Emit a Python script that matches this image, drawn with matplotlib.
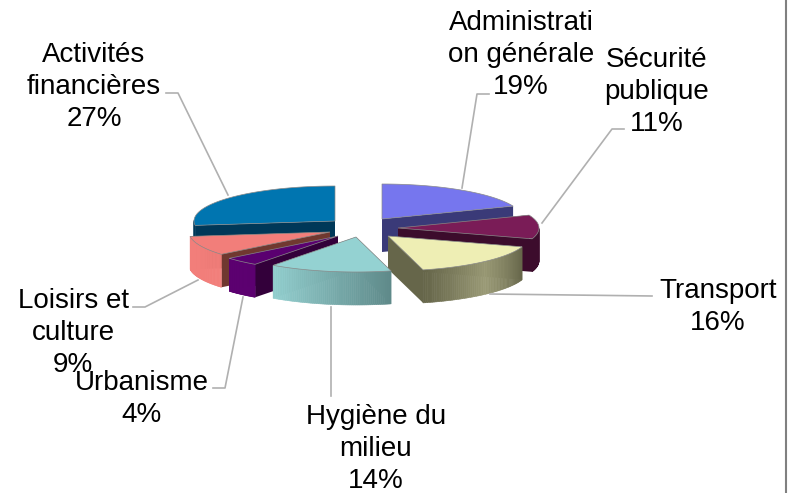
import numpy as np
import matplotlib
matplotlib.use("Agg")
import matplotlib.pyplot as plt
from matplotlib.colors import LinearSegmentedColormap
from matplotlib.patches import Polygon

plt.rcParams['font.family'] = ['Liberation Sans', 'DejaVu Sans']

categories = ["Administration générale", "Sécurité publique", "Transport",
              "Hygiène du milieu", "Urbanisme", "Loisirs et culture",
              "Activités financières"]
shares = [19, 11, 16, 14, 4, 9, 27]
labels = ["Administrati\non générale\n19%", "Sécurité\npublique\n11%",
          "Transport\n16%", "Hygiène du\nmilieu\n14%", "Urbanisme\n4%",
          "Loisirs et\nculture\n9%", "Activités\nfinancières\n27%"]

# look of each slice
top_colors = ["#7676EE", "#7A1C57", "#EEEEB4", "#94D2D2", "#5A0070", "#F27E7A", "#0075B0"]
cut_colors = ["#3A3A78", "#3C0C2C", "#66664A", "#66968F", "#33003A", "#703830", "#003858"]
side_colors = [["#3A3A78", "#3A3A78"], ["#3C0C2C", "#3C0C2C"],
               ["#66664A", "#9A9A76", "#66664A"], ["#5F8A8A", "#94D0D0"],
               ["#5C0070", "#5C0070"], ["#F27E7A", "#F27E7A"],
               ["#003858", "#003858"]]

# tip of each slice on the page, in pixels
tips = [(382, 219), (398, 228), (388, 236), (356, 237), (338, 236), (330, 232), (335, 221)]
rx, ry, depth = 141, 35, 33
draw_order = [6, 0, 1, 5, 4, 2, 3]

label_pos = [(521, 55), (657, 92), (718, 307), (376, 449), (142, 399), (73, 333), (94, 87)]
leaders = [[(489, 94), (477, 94), (462, 188)], [(624, 129), (612, 129), (542, 223)],
           [(652, 296), (490, 294)], [(331, 307), (331, 396)],
           [(213, 388), (225, 388), (243, 297)], [(133, 307), (145, 307), (198, 280)],
           [(166, 93), (178, 93), (228, 195)]]

fig = plt.figure(figsize=(7.99, 4.93), dpi=100)
ax = fig.add_axes([0, 0, 1, 1])
ax.set_xlim(0, 799)
ax.set_ylim(493, 0)
ax.axis("off")


def rim(tip, a0, a1, n=60):
    t = np.radians(np.linspace(a0, a1, n))
    return tip[0] + rx * np.sin(t), tip[1] - ry * np.cos(t)


ends = np.cumsum(shares) * 3.6
starts = ends - np.array(shares) * 3.6

for i in draw_order:
    tip = tips[i]
    x, y = rim(tip, starts[i], ends[i])
    z = draw_order.index(i) + 1
    cmap = LinearSegmentedColormap.from_list("side", side_colors[i])
    # cut faces
    for px, py in ((x[0], y[0]), (x[-1], y[-1])):
        ax.add_patch(Polygon([tip, (px, py), (px, py + depth), (tip[0], tip[1] + depth)],
                             closed=True, fc=cut_colors[i], ec="none", zorder=z))
    # outer wall, only the part facing us
    for k in range(len(x) - 1):
        a = starts[i] + (ends[i] - starts[i]) * k / 59
        if np.cos(np.radians(a)) < 0 or 90 < (starts[i] + ends[i]) / 2 < 270:
            c = cmap(k / (len(x) - 2))
            ax.add_patch(Polygon([(x[k], y[k]), (x[k + 1], y[k + 1]),
                                  (x[k + 1], y[k + 1] + depth), (x[k], y[k] + depth)],
                                 closed=True, fc=c, ec=c, lw=0.4, zorder=z + 0.2))
    ax.add_patch(Polygon(np.vstack([[tip], np.column_stack([x, y])]), closed=True,
                         fc=top_colors[i], ec="#8A8A8A", lw=0.5, zorder=z + 0.5))

for pts in leaders:
    ax.plot(*zip(*pts), color="#B0B0B0", lw=1.2, zorder=10)

for lab, (tx, ty) in zip(labels, label_pos):
    ax.text(tx, ty, lab, ha="center", va="center", fontsize=20, linespacing=1.29,
            color="black", zorder=11)

# frame on the right
ax.plot([786, 786], [0, 493], color="#808080", lw=1.5, zorder=12)

fig.savefig("out.png", dpi=100)
